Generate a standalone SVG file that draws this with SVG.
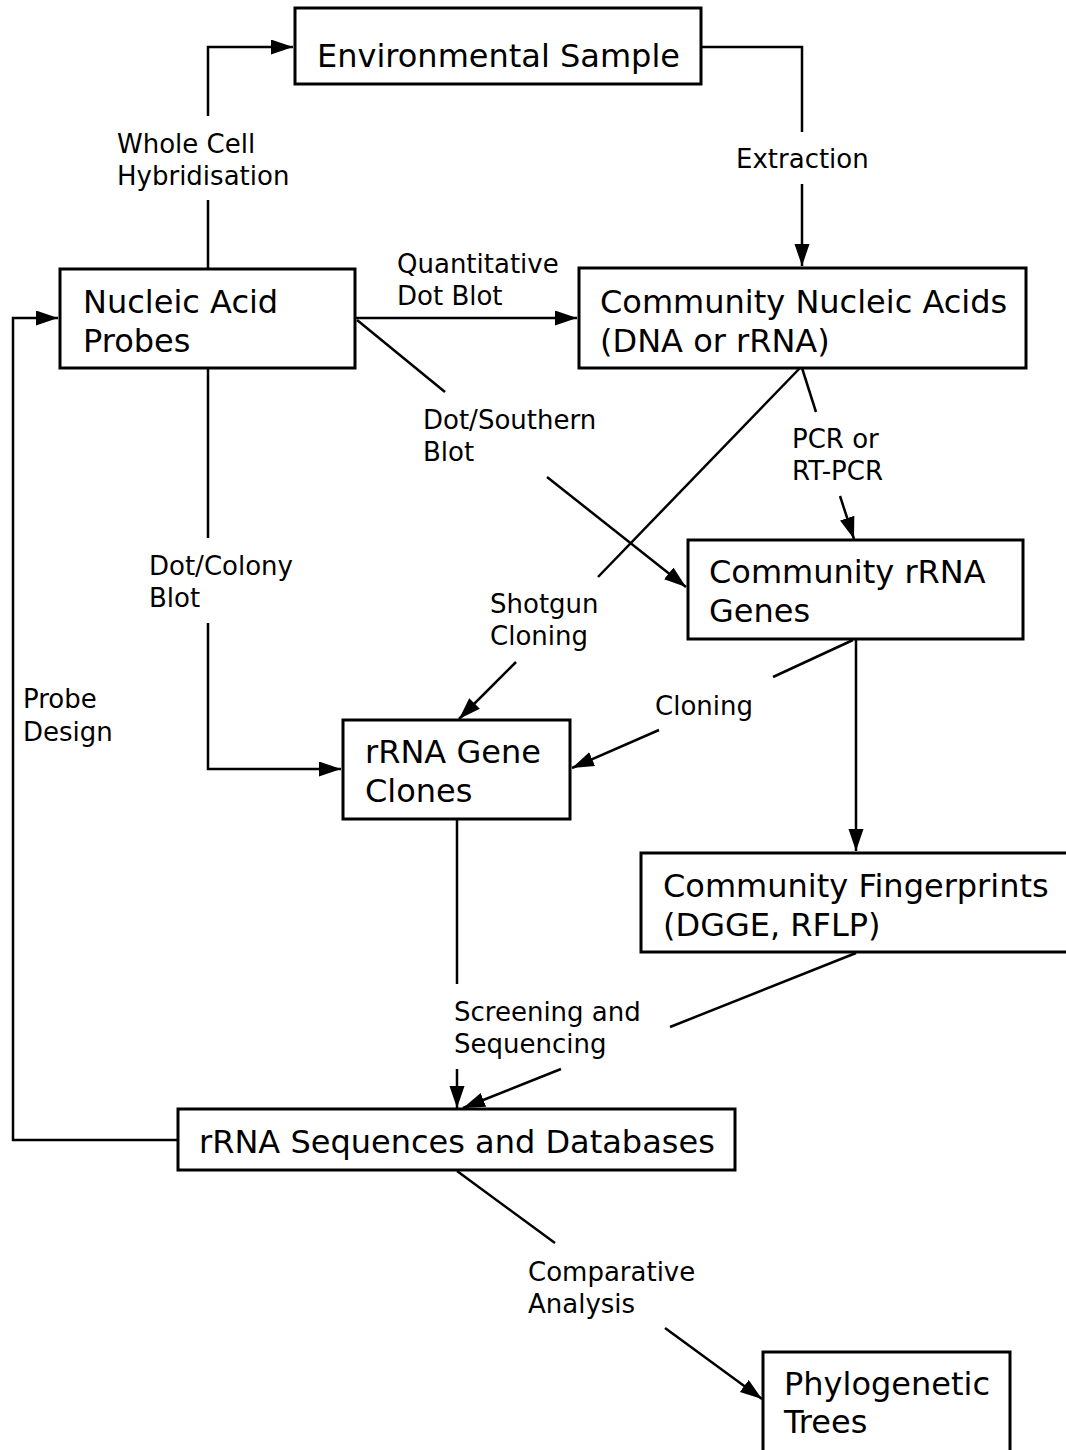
<svg xmlns="http://www.w3.org/2000/svg" width="1066" height="1450" viewBox="0 0 1066 1450">
<style>
.box{fill:#fff;stroke:#000;stroke-width:3}
.nt{font-family:"DejaVu Sans",Verdana,sans-serif;font-size:32px;fill:#000}
.lt{font-family:"DejaVu Sans",Verdana,sans-serif;font-size:26px;fill:#000}
.ln{fill:none;stroke:#000;stroke-width:2.5}
</style>
<defs>
<marker id="ah" markerUnits="userSpaceOnUse" markerWidth="24" markerHeight="16" refX="22" refY="7.5" orient="auto">
<path d="M0,0 L22,7.5 L0,15 z" fill="#000"/>
</marker>
</defs>
<rect width="1066" height="1450" fill="#fff"/>
<g id="connectors">
<polyline class="ln" points="208,269 208,200"/>
<polyline class="ln" points="208,116 208,47 293,47" marker-end="url(#ah)"/>
<polyline class="ln" points="701,47 802,47 802,132"/>
<polyline class="ln" points="802,184 802,266" marker-end="url(#ah)"/>
<line class="ln" x1="356" y1="318" x2="577" y2="318" marker-end="url(#ah)"/>
<line class="ln" x1="357" y1="320" x2="445" y2="392"/>
<line class="ln" x1="547" y1="477" x2="686" y2="587" marker-end="url(#ah)"/>
<line class="ln" x1="800" y1="368" x2="598" y2="577"/>
<line class="ln" x1="516" y1="662" x2="459" y2="719" marker-end="url(#ah)"/>
<line class="ln" x1="802" y1="368" x2="816" y2="412"/>
<line class="ln" x1="840" y1="496" x2="854" y2="539" marker-end="url(#ah)"/>
<line class="ln" x1="853" y1="640" x2="773" y2="677"/>
<line class="ln" x1="659" y1="730" x2="572" y2="768" marker-end="url(#ah)"/>
<line class="ln" x1="856" y1="639" x2="856" y2="851" marker-end="url(#ah)"/>
<line class="ln" x1="457" y1="819" x2="457" y2="984"/>
<line class="ln" x1="457" y1="1069" x2="457" y2="1108" marker-end="url(#ah)"/>
<line class="ln" x1="856" y1="953" x2="670" y2="1027"/>
<line class="ln" x1="561" y1="1069" x2="463" y2="1108" marker-end="url(#ah)"/>
<polyline class="ln" points="178,1140 13,1140 13,318 58,318" marker-end="url(#ah)"/>
<polyline class="ln" points="208,368 208,538"/>
<polyline class="ln" points="208,623 208,769 341,769" marker-end="url(#ah)"/>
<line class="ln" x1="457" y1="1171" x2="555" y2="1243"/>
<line class="ln" x1="665" y1="1328" x2="762" y2="1399" marker-end="url(#ah)"/>
<text class="lt" x="117" y="153">Whole Cell</text>
<text class="lt" x="117" y="185">Hybridisation</text>
<text class="lt" x="736" y="168">Extraction</text>
<text class="lt" x="397" y="273">Quantitative</text>
<text class="lt" x="397" y="305">Dot Blot</text>
<text class="lt" x="423" y="429">Dot/Southern</text>
<text class="lt" x="423" y="461">Blot</text>
<text class="lt" x="792" y="448">PCR or</text>
<text class="lt" x="792" y="480">RT-PCR</text>
<text class="lt" x="149" y="575">Dot/Colony</text>
<text class="lt" x="149" y="607">Blot</text>
<text class="lt" x="490" y="613">Shotgun</text>
<text class="lt" x="490" y="645">Cloning</text>
<text class="lt" x="655" y="715">Cloning</text>
<text class="lt" x="23" y="708">Probe</text>
<text class="lt" x="23" y="741">Design</text>
<text class="lt" x="454" y="1021">Screening and</text>
<text class="lt" x="454" y="1053">Sequencing</text>
<text class="lt" x="528" y="1281">Comparative</text>
<text class="lt" x="528" y="1313">Analysis</text>
</g>
<g id="node-env">
<rect class="box" x="295" y="8" width="406" height="76"/>
<text class="nt" x="317" y="67">Environmental Sample</text>
</g>
<g id="node-probes">
<rect class="box" x="60" y="269" width="295" height="99"/>
<text class="nt" x="83" y="313">Nucleic Acid</text>
<text class="nt" x="83" y="352">Probes</text>
</g>
<g id="node-cna">
<rect class="box" x="579" y="268" width="447" height="100"/>
<text class="nt" x="600" y="313">Community Nucleic Acids</text>
<text class="nt" x="600" y="352">(DNA or rRNA)</text>
</g>
<g id="node-genes">
<rect class="box" x="688" y="540" width="335" height="99"/>
<text class="nt" x="709" y="583">Community rRNA</text>
<text class="nt" x="709" y="622">Genes</text>
</g>
<g id="node-clones">
<rect class="box" x="343" y="720" width="227" height="99"/>
<text class="nt" x="365" y="763">rRNA Gene</text>
<text class="nt" x="365" y="802">Clones</text>
</g>
<g id="node-fingerprints">
<rect class="box" x="641" y="853" width="440" height="99"/>
<text class="nt" x="663" y="897">Community Fingerprints</text>
<text class="nt" x="663" y="936">(DGGE, RFLP)</text>
</g>
<g id="node-seq">
<rect class="box" x="178" y="1109" width="557" height="61"/>
<text class="nt" x="199" y="1153">rRNA Sequences and Databases</text>
</g>
<g id="node-trees">
<rect class="box" x="763" y="1352" width="247" height="110"/>
<text class="nt" x="784" y="1395">Phylogenetic</text>
<text class="nt" x="784" y="1433">Trees</text>
</g>
</svg>
